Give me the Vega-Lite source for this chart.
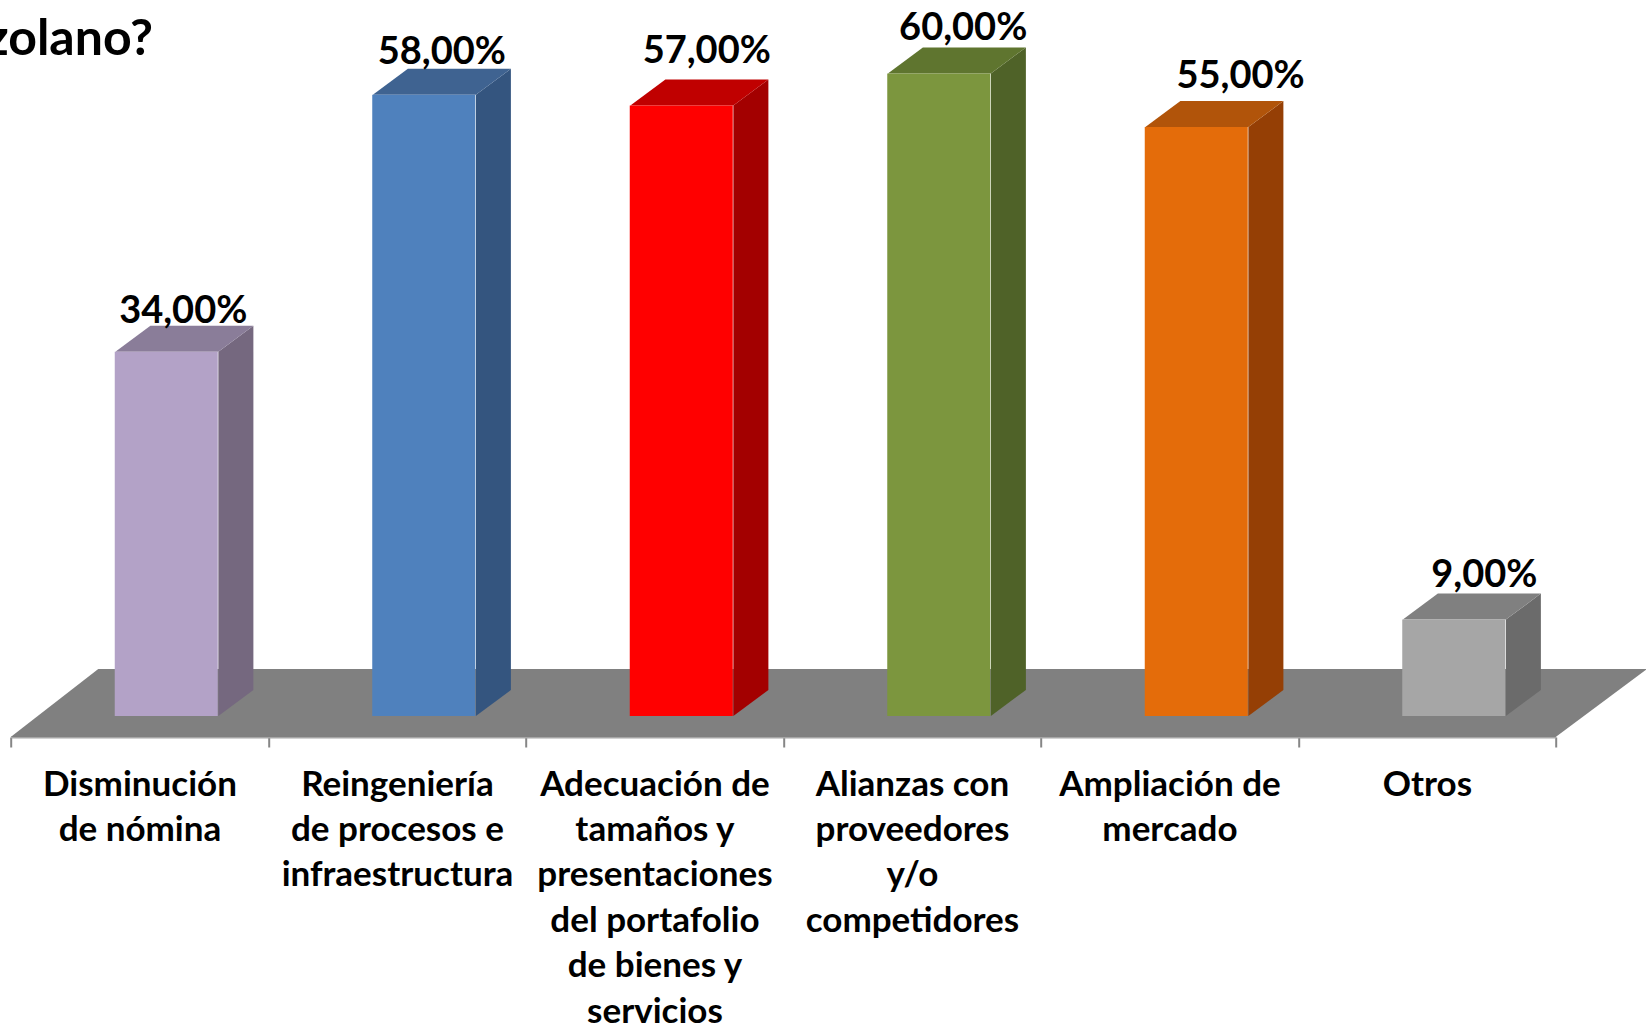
{
 "$schema":"https://vega.github.io/schema/vega-lite/v6.json",
 "width":1545,"height":700,"autosize":"none","background":"white",
 "padding":{"left":10.7,"top":37,"right":90.3,"bottom":287},
 "data":{"values":[
  {"categoria":"Disminución\nde nómina","valor":34},
  {"categoria":"Reingeniería\nde procesos e\ninfraestructura","valor":58},
  {"categoria":"Adecuación de\ntamaños y\npresentaciones\ndel portafolio\nde bienes y\nservicios","valor":57},
  {"categoria":"Alianzas con\nproveedores\ny/o\ncompetidores","valor":60},
  {"categoria":"Ampliación de\nmercado","valor":55},
  {"categoria":"Otros","valor":9}
 ]},
 "transform":[{"window":[{"op":"row_number","as":"n"}]}],
 "config":{"view":{"stroke":null},"text":{"font":"Lato","fontWeight":"bold","color":"#000000"}},
 "resolve":{"scale":{"x":"independent"}},
 "layer":[
  {"data":{"values":[{"plano":"suelo"}]},
   "transform":[
    {"calculate":"[0,0.34,6,6.355]","as":"px"},
    {"calculate":"[0-1.96,0-1.96,0-1.96,4.39]","as":"py"},
    {"calculate":"[0-1.96,4.39,4.39,4.39]","as":"py2"},
    {"flatten":["px","py","py2"]}],
   "mark":{"type":"area","orient":"vertical","color":"#808080"},
   "encoding":{
    "x":{"field":"px","type":"quantitative","scale":{"domain":[0,6],"nice":false,"zero":false},"axis":null},
    "y":{"field":"py","type":"quantitative","stack":null,"scale":{"domain":[-1.96,63.4],"nice":false,"zero":false},"axis":null},
    "y2":{"field":"py2"}}},
  {"transform":[
    {"calculate":"'lateral'+datum.n","as":"tono"},
    {"calculate":"[datum.n-1+0.8065,datum.n-1+0.9425]","as":"px"},
    {"calculate":"[0,2.43]","as":"py"},
    {"calculate":"[datum.valor,datum.valor+2.43]","as":"py2"},
    {"flatten":["px","py","py2"]}],
   "mark":{"type":"area","orient":"vertical"},
   "encoding":{
    "x":{"field":"px","type":"quantitative","scale":{"domain":[0,6],"nice":false,"zero":false},"axis":null},
    "y":{"field":"py","type":"quantitative","stack":null,"axis":null},
    "y2":{"field":"py2"},
    "color":{"field":"tono","type":"nominal","legend":null,
     "scale":{"domain":["frente1","frente2","frente3","frente4","frente5","frente6","lateral1","lateral2","lateral3","lateral4","lateral5","lateral6","tapa1","tapa2","tapa3","tapa4","tapa5","tapa6"],
      "range":["#B3A2C7","#4F81BD","#FF0000","#7C963E","#E46C0A","#A6A6A6","#75687F","#34557F","#A30000","#4F6228","#953F05","#6B6B6B","#8A7D99","#3F6391","#C00000","#5F752F","#B1540A","#808080"]}}}},
  {"transform":[
    {"calculate":"'tapa'+datum.n","as":"tono"},
    {"calculate":"[datum.n-1+0.4065,datum.n-1+0.5425,datum.n-1+0.8065,datum.n-1+0.9425]","as":"px"},
    {"calculate":"[datum.valor,datum.valor,datum.valor,datum.valor+2.43]","as":"py"},
    {"calculate":"[datum.valor,datum.valor+2.43,datum.valor+2.43,datum.valor+2.43]","as":"py2"},
    {"flatten":["px","py","py2"]}],
   "mark":{"type":"area","orient":"vertical"},
   "encoding":{
    "x":{"field":"px","type":"quantitative","scale":{"domain":[0,6],"nice":false,"zero":false},"axis":null},
    "y":{"field":"py","type":"quantitative","stack":null,"axis":null},
    "y2":{"field":"py2"},
    "color":{"field":"tono","type":"nominal","legend":null}}},
  {"transform":[
    {"calculate":"'frente'+datum.n","as":"tono"}],
   "mark":{"type":"bar","width":103,"xOffset":26.8},
   "encoding":{
    "x":{"field":"categoria","type":"nominal","sort":null,"title":null,
     "scale":{"paddingInner":0,"paddingOuter":0},
     "axis":{"orient":"bottom","labelExpr":"split(datum.label,'\\n')","labelAngle":0,"labelFont":"Lato","labelFontWeight":"bold","labelFontSize":35,"labelColor":"#000000","labelLineHeight":45.4,"labelLimit":0,"labelOverlap":false,"labelPadding":20,"labelBaseline":"top","labelAlign":"center","tickBand":"extent","tickSize":10,"tickWidth":2,"tickColor":"#868686","domainColor":"#A6A6A6","domainWidth":2,"grid":false}},
    "y":{"field":"valor","type":"quantitative","stack":null,"axis":null},
    "color":{"field":"tono","type":"nominal","legend":null}}},
  {"transform":[
    {"calculate":"datum.n-1+0.67+[0,0.004,0.033,0.029,0.106,0.053][datum.n-1]","as":"px"},
    {"calculate":"datum.valor+2.43+1.5+[-0.2,0,1.08,0.2,0.7,0.1][datum.n-1]","as":"py"},
    {"calculate":"replace(format(datum.valor,'.2f'),'.',',')+'%'","as":"etiqueta"}],
   "mark":{"type":"text","fontSize":38,"align":"center","baseline":"middle"},
   "encoding":{
    "x":{"field":"px","type":"quantitative","scale":{"domain":[0,6],"nice":false,"zero":false},"axis":null},
    "y":{"field":"py","type":"quantitative","axis":null},
    "text":{"field":"etiqueta","type":"nominal"}}},
  {"data":{"values":[{"titulo":"zolano?"}]},
   "transform":[
    {"calculate":"0.553","as":"px"},
    {"calculate":"63.1","as":"py"}],
   "mark":{"type":"text","fontSize":50,"align":"right","baseline":"middle"},
   "encoding":{
    "x":{"field":"px","type":"quantitative","scale":{"domain":[0,6],"nice":false,"zero":false},"axis":null},
    "y":{"field":"py","type":"quantitative","axis":null},
    "text":{"field":"titulo","type":"nominal"}}}
 ]
}
